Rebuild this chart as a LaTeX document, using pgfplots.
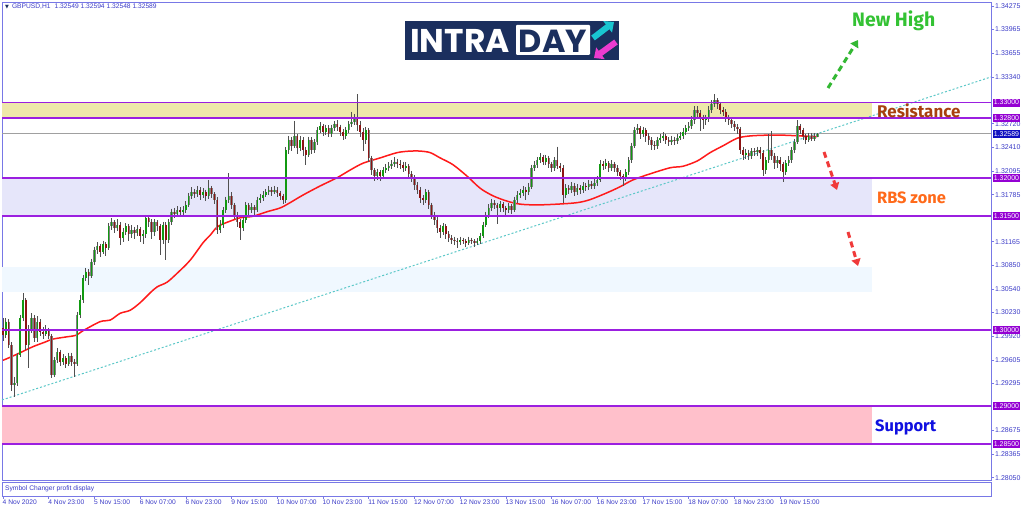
\documentclass[border=0pt]{standalone}
\usepackage{pgfplots}
\pgfplotsset{compat=1.18}
\usepackage{pgfplotstable}
\usepackage{fontspec}
\setmainfont{Liberation Sans}
\newfontfamily\annfont{Fira Sans}
\newfontfamily\logofont{Poppins}
\newfontfamily\symfont{DejaVu Sans}
\usetikzlibrary{arrows.meta}

\definecolor{framecol}{HTML}{7878E6}
\definecolor{labcol}{HTML}{3C3CC8}
\definecolor{lvcol}{HTML}{9B1FE0}
\definecolor{tagcol}{HTML}{9400D3}
\definecolor{bidtag}{HTML}{1010C0}
\definecolor{resfill}{HTML}{EEE8AA}
\definecolor{rbsfill}{HTML}{E6E6FA}
\definecolor{bluefill}{HTML}{F0F8FF}
\definecolor{supfill}{HTML}{FFC0CB}
\definecolor{bidcol}{HTML}{A0A0A0}
\definecolor{trendcol}{HTML}{5CC8C8}
\definecolor{wickcol}{HTML}{505050}
\definecolor{edgecol}{HTML}{808080}
\definecolor{bullcol}{HTML}{119911}
\definecolor{bearcol}{HTML}{8E1414}
\definecolor{macol}{HTML}{FF1A1A}
\definecolor{navy}{HTML}{1B2F5E}
\definecolor{logocyan}{HTML}{19C6D1}
\definecolor{logomag}{HTML}{EC3BD0}
\definecolor{newhigh}{HTML}{33C233}
\definecolor{rescol}{HTML}{A8400F}
\definecolor{rbscol}{HTML}{FF6A1A}
\definecolor{supcol}{HTML}{1010E0}
\definecolor{arrred}{HTML}{F03A3A}
\definecolor{arrgreen}{HTML}{33B833}

\pgfplotstableread{
i o h l c
0 1.3002 1.3016 1.2986 1.2993
1 1.2993 1.3016 1.2990 1.3011
2 1.3011 1.3014 1.2976 1.2980
3 1.2980 1.2984 1.2920 1.2927
4 1.2927 1.2938 1.2912 1.2930
5 1.2930 1.2970 1.2926 1.2967
6 1.2967 1.3020 1.2964 1.3016
7 1.3016 1.3049 1.3012 1.3040
8 1.3040 1.3042 1.2974 1.2980
9 1.2980 1.3006 1.2950 1.3000
10 1.3000 1.3022 1.2996 1.3016
11 1.3016 1.3020 1.2984 1.2989
12 1.2989 1.3018 1.2984 1.3011
13 1.3011 1.3014 1.2992 1.2997
14 1.2997 1.3004 1.2988 1.2995
15 1.2995 1.3006 1.2992 1.3000
16 1.3000 1.3003 1.2988 1.2992
17 1.2992 1.2995 1.2936 1.2941
18 1.2941 1.2964 1.2938 1.2960
19 1.2960 1.2976 1.2956 1.2971
20 1.2971 1.2974 1.2952 1.2958
21 1.2958 1.2968 1.2954 1.2963
22 1.2963 1.2966 1.2950 1.2955
23 1.2955 1.2970 1.2952 1.2966
24 1.2966 1.2970 1.2953 1.2958
25 1.2958 1.2962 1.2938 1.2955
26 1.2955 1.3024 1.2952 1.3020
27 1.3020 1.3046 1.3016 1.3040
28 1.3040 1.3072 1.3036 1.3069
29 1.3069 1.3082 1.3064 1.3077
30 1.3077 1.3080 1.3060 1.3071
31 1.3071 1.3094 1.3068 1.3090
32 1.3090 1.3110 1.3086 1.3106
33 1.3106 1.3116 1.3100 1.3111
34 1.3111 1.3114 1.3096 1.3103
35 1.3103 1.3118 1.3100 1.3113
36 1.3113 1.3116 1.3098 1.3108
37 1.3108 1.3141 1.3105 1.3137
38 1.3137 1.3148 1.3132 1.3142
39 1.3142 1.3145 1.3128 1.3135
40 1.3135 1.3146 1.3130 1.3139
41 1.3139 1.3142 1.3112 1.3121
42 1.3121 1.3134 1.3116 1.3129
43 1.3129 1.3141 1.3125 1.3137
44 1.3137 1.3140 1.3118 1.3127
45 1.3127 1.3138 1.3122 1.3132
46 1.3132 1.3136 1.3120 1.3128
47 1.3128 1.3138 1.3124 1.3133
48 1.3133 1.3136 1.3116 1.3124
49 1.3124 1.3132 1.3114 1.3126
50 1.3126 1.3152 1.3122 1.3148
51 1.3148 1.3152 1.3136 1.3142
52 1.3142 1.3146 1.3120 1.3129
53 1.3129 1.3146 1.3124 1.3142
54 1.3142 1.3145 1.3130 1.3137
55 1.3137 1.3140 1.3099 1.3119
56 1.3119 1.3143 1.3114 1.3139
57 1.3139 1.3142 1.3092 1.3119
58 1.3119 1.3146 1.3115 1.3142
59 1.3142 1.3160 1.3138 1.3156
60 1.3156 1.3161 1.3148 1.3153
61 1.3153 1.3163 1.3149 1.3158
62 1.3158 1.3162 1.3150 1.3156
63 1.3156 1.3163 1.3152 1.3158
64 1.3158 1.3170 1.3154 1.3165
65 1.3165 1.3181 1.3162 1.3177
66 1.3177 1.3188 1.3173 1.3182
67 1.3182 1.3186 1.3174 1.3179
68 1.3179 1.3190 1.3175 1.3185
69 1.3185 1.3188 1.3172 1.3178
70 1.3178 1.3187 1.3174 1.3182
71 1.3182 1.3185 1.3170 1.3177
72 1.3177 1.3198 1.3173 1.3187
73 1.3187 1.3190 1.3174 1.3179
74 1.3179 1.3182 1.3166 1.3172
75 1.3172 1.3175 1.3126 1.3132
76 1.3132 1.3145 1.3128 1.3139
77 1.3139 1.3162 1.3135 1.3158
78 1.3158 1.3176 1.3154 1.3172
79 1.3172 1.3207 1.3168 1.3177
80 1.3177 1.3182 1.3160 1.3165
81 1.3165 1.3168 1.3146 1.3152
82 1.3152 1.3156 1.3136 1.3142
83 1.3142 1.3146 1.3119 1.3135
84 1.3135 1.3150 1.3130 1.3145
85 1.3145 1.3169 1.3141 1.3165
86 1.3165 1.3168 1.3152 1.3158
87 1.3158 1.3167 1.3154 1.3162
88 1.3162 1.3165 1.3152 1.3158
89 1.3158 1.3176 1.3155 1.3172
90 1.3172 1.3180 1.3168 1.3174
91 1.3174 1.3183 1.3170 1.3178
92 1.3178 1.3186 1.3175 1.3182
93 1.3182 1.3190 1.3178 1.3185
94 1.3185 1.3189 1.3177 1.3182
95 1.3182 1.3190 1.3179 1.3185
96 1.3185 1.3188 1.3176 1.3181
97 1.3181 1.3184 1.3172 1.3177
98 1.3177 1.3180 1.3166 1.3172
99 1.3172 1.3241 1.3168 1.3237
100 1.3237 1.3256 1.3232 1.3251
101 1.3251 1.3255 1.3236 1.3243
102 1.3243 1.3276 1.3240 1.3256
103 1.3256 1.3259 1.3232 1.3240
104 1.3240 1.3256 1.3236 1.3251
105 1.3251 1.3254 1.3230 1.3237
106 1.3237 1.3242 1.3218 1.3231
107 1.3231 1.3255 1.3228 1.3251
108 1.3251 1.3254 1.3232 1.3237
109 1.3237 1.3252 1.3233 1.3248
110 1.3248 1.3268 1.3244 1.3264
111 1.3264 1.3274 1.3260 1.3269
112 1.3269 1.3272 1.3256 1.3261
113 1.3261 1.3271 1.3257 1.3266
114 1.3266 1.3270 1.3254 1.3259
115 1.3259 1.3271 1.3255 1.3266
116 1.3266 1.3276 1.3262 1.3272
117 1.3272 1.3277 1.3263 1.3268
118 1.3268 1.3271 1.3256 1.3261
119 1.3261 1.3265 1.3250 1.3256
120 1.3256 1.3268 1.3252 1.3264
121 1.3264 1.3276 1.3260 1.3272
122 1.3272 1.3288 1.3268 1.3274
123 1.3274 1.3285 1.3270 1.3280
124 1.3280 1.3311 1.3262 1.3270
125 1.3270 1.3276 1.3254 1.3261
126 1.3261 1.3266 1.3236 1.3251
127 1.3251 1.3268 1.3246 1.3264
128 1.3264 1.3266 1.3222 1.3227
129 1.3227 1.3230 1.3204 1.3211
130 1.3211 1.3214 1.3196 1.3203
131 1.3203 1.3213 1.3198 1.3208
132 1.3208 1.3211 1.3197 1.3203
133 1.3203 1.3215 1.3199 1.3211
134 1.3211 1.3219 1.3207 1.3214
135 1.3214 1.3221 1.3210 1.3216
136 1.3216 1.3224 1.3212 1.3219
137 1.3219 1.3228 1.3215 1.3222
138 1.3222 1.3226 1.3214 1.3219
139 1.3219 1.3224 1.3212 1.3218
140 1.3218 1.3222 1.3209 1.3214
141 1.3214 1.3221 1.3210 1.3216
142 1.3216 1.3219 1.3200 1.3206
143 1.3206 1.3210 1.3195 1.3201
144 1.3201 1.3204 1.3185 1.3191
145 1.3191 1.3195 1.3180 1.3185
146 1.3185 1.3188 1.3168 1.3174
147 1.3174 1.3178 1.3165 1.3172
148 1.3172 1.3186 1.3168 1.3182
149 1.3182 1.3185 1.3160 1.3165
150 1.3165 1.3168 1.3146 1.3152
151 1.3152 1.3156 1.3139 1.3145
152 1.3145 1.3149 1.3128 1.3135
153 1.3135 1.3139 1.3122 1.3129
154 1.3129 1.3141 1.3125 1.3137
155 1.3137 1.3140 1.3120 1.3127
156 1.3127 1.3130 1.3116 1.3121
157 1.3121 1.3125 1.3114 1.3119
158 1.3119 1.3123 1.3112 1.3117
159 1.3117 1.3121 1.3108 1.3116
160 1.3116 1.3123 1.3112 1.3119
161 1.3119 1.3122 1.3113 1.3117
162 1.3117 1.3120 1.3110 1.3115
163 1.3115 1.3123 1.3112 1.3119
164 1.3119 1.3122 1.3113 1.3117
165 1.3117 1.3120 1.3110 1.3115
166 1.3115 1.3121 1.3112 1.3117
167 1.3117 1.3128 1.3114 1.3124
168 1.3124 1.3143 1.3121 1.3139
169 1.3139 1.3156 1.3136 1.3152
170 1.3152 1.3166 1.3148 1.3161
171 1.3161 1.3173 1.3157 1.3168
172 1.3168 1.3171 1.3160 1.3165
173 1.3165 1.3168 1.3140 1.3161
174 1.3161 1.3170 1.3156 1.3166
175 1.3166 1.3169 1.3155 1.3161
176 1.3161 1.3164 1.3152 1.3158
177 1.3158 1.3168 1.3154 1.3164
178 1.3164 1.3166 1.3153 1.3158
179 1.3158 1.3176 1.3155 1.3172
180 1.3172 1.3183 1.3168 1.3178
181 1.3178 1.3186 1.3174 1.3181
182 1.3181 1.3190 1.3177 1.3185
183 1.3185 1.3188 1.3172 1.3182
184 1.3182 1.3194 1.3178 1.3189
185 1.3189 1.3218 1.3186 1.3214
186 1.3214 1.3223 1.3210 1.3218
187 1.3218 1.3228 1.3214 1.3224
188 1.3224 1.3233 1.3220 1.3228
189 1.3228 1.3231 1.3217 1.3222
190 1.3222 1.3231 1.3218 1.3227
191 1.3227 1.3230 1.3214 1.3219
192 1.3219 1.3222 1.3208 1.3214
193 1.3214 1.3228 1.3210 1.3224
194 1.3224 1.3242 1.3212 1.3216
195 1.3216 1.3220 1.3208 1.3214
196 1.3214 1.3217 1.3168 1.3178
197 1.3178 1.3192 1.3174 1.3187
198 1.3187 1.3191 1.3180 1.3185
199 1.3185 1.3195 1.3181 1.3190
200 1.3190 1.3194 1.3177 1.3182
201 1.3182 1.3192 1.3178 1.3187
202 1.3187 1.3191 1.3180 1.3185
203 1.3185 1.3195 1.3181 1.3190
204 1.3190 1.3194 1.3184 1.3189
205 1.3189 1.3198 1.3185 1.3193
206 1.3193 1.3196 1.3186 1.3190
207 1.3190 1.3199 1.3186 1.3194
208 1.3194 1.3203 1.3190 1.3198
209 1.3198 1.3224 1.3195 1.3219
210 1.3219 1.3223 1.3211 1.3216
211 1.3216 1.3226 1.3212 1.3220
212 1.3220 1.3223 1.3209 1.3214
213 1.3214 1.3224 1.3210 1.3219
214 1.3219 1.3222 1.3209 1.3214
215 1.3214 1.3217 1.3203 1.3208
216 1.3208 1.3211 1.3198 1.3203
217 1.3203 1.3206 1.3190 1.3201
218 1.3201 1.3212 1.3197 1.3208
219 1.3208 1.3228 1.3205 1.3224
220 1.3224 1.3247 1.3220 1.3243
221 1.3243 1.3268 1.3240 1.3264
222 1.3264 1.3272 1.3258 1.3266
223 1.3266 1.3269 1.3252 1.3259
224 1.3259 1.3268 1.3254 1.3264
225 1.3264 1.3267 1.3248 1.3256
226 1.3256 1.3260 1.3244 1.3251
227 1.3251 1.3254 1.3238 1.3244
228 1.3244 1.3249 1.3237 1.3243
229 1.3243 1.3255 1.3239 1.3251
230 1.3251 1.3258 1.3247 1.3253
231 1.3253 1.3261 1.3249 1.3256
232 1.3256 1.3259 1.3245 1.3251
233 1.3251 1.3254 1.3243 1.3248
234 1.3248 1.3256 1.3244 1.3251
235 1.3251 1.3255 1.3244 1.3249
236 1.3249 1.3258 1.3245 1.3253
237 1.3253 1.3261 1.3250 1.3256
238 1.3256 1.3266 1.3252 1.3261
239 1.3261 1.3271 1.3257 1.3266
240 1.3266 1.3274 1.3262 1.3269
241 1.3269 1.3282 1.3265 1.3277
242 1.3277 1.3295 1.3272 1.3290
243 1.3290 1.3295 1.3280 1.3286
244 1.3286 1.3290 1.3263 1.3280
245 1.3280 1.3284 1.3265 1.3277
246 1.3277 1.3284 1.3270 1.3278
247 1.3278 1.3295 1.3274 1.3290
248 1.3290 1.3303 1.3286 1.3298
249 1.3298 1.3311 1.3294 1.3303
250 1.3303 1.3306 1.3292 1.3298
251 1.3298 1.3301 1.3285 1.3290
252 1.3290 1.3294 1.3282 1.3288
253 1.3288 1.3291 1.3275 1.3280
254 1.3280 1.3284 1.3270 1.3277
255 1.3277 1.3280 1.3266 1.3272
256 1.3272 1.3276 1.3262 1.3268
257 1.3268 1.3272 1.3258 1.3265
258 1.3265 1.3268 1.3232 1.3237
259 1.3237 1.3241 1.3224 1.3231
260 1.3231 1.3239 1.3226 1.3234
261 1.3234 1.3238 1.3224 1.3230
262 1.3230 1.3240 1.3226 1.3236
263 1.3236 1.3240 1.3229 1.3235
264 1.3235 1.3242 1.3230 1.3237
265 1.3237 1.3241 1.3226 1.3234
266 1.3234 1.3237 1.3203 1.3211
267 1.3211 1.3228 1.3206 1.3224
268 1.3224 1.3258 1.3220 1.3237
269 1.3237 1.3262 1.3224 1.3230
270 1.3230 1.3234 1.3213 1.3220
271 1.3220 1.3229 1.3214 1.3224
272 1.3224 1.3228 1.3210 1.3219
273 1.3219 1.3222 1.3195 1.3208
274 1.3208 1.3224 1.3204 1.3220
275 1.3220 1.3229 1.3216 1.3224
276 1.3224 1.3241 1.3220 1.3237
277 1.3237 1.3252 1.3233 1.3248
278 1.3248 1.3277 1.3245 1.3269
279 1.3269 1.3272 1.3258 1.3264
280 1.3264 1.3267 1.3250 1.3256
281 1.3256 1.3259 1.3246 1.3251
282 1.3251 1.3260 1.3248 1.3256
283 1.3256 1.3260 1.3249 1.3252
284 1.3252 1.3260 1.3249 1.3255
285 1.32549 1.32594 1.32548 1.32589
}\candles

\pgfplotstableread{
i v
0 1.2960
2.5 1.2964
6 1.2970
10.5 1.2978
14.7 1.2984
17.5 1.2988
22.4 1.2991
25.6 1.2993
28 1.2999
34 1.3011
37.5 1.3013
41 1.3022
44.5 1.3026
48 1.3036
51.5 1.3049
54 1.3057
57.4 1.3063
61 1.3075
65.5 1.3092
70 1.3115
72.5 1.3125
75 1.3136
78.4 1.3142
83 1.3148
87.5 1.3150
92.4 1.3156
97 1.3161
100.5 1.3168
105 1.3178
111 1.3190
117 1.3201
121.5 1.3211
126 1.3220
132 1.3227
138 1.3234
142.5 1.3236
146 1.3236
149.5 1.3234
153 1.3227
157.5 1.3218
162.4 1.3203
167 1.3187
171.5 1.3177
176.4 1.3170
181 1.3166
187 1.3165
194 1.3166
201 1.3168
205.5 1.3172
211.4 1.3181
216 1.3189
220.5 1.3198
226.5 1.3206
233.5 1.3214
238 1.3216
243 1.3223
247.5 1.3234
252 1.3243
257 1.3253
261.5 1.3256
267.4 1.3257
273 1.3257
279 1.3256
285 1.3255
}\ema

\begin{document}
\begin{tikzpicture}[x=1bp,y=1bp,
  tag/.style={anchor=west, fill=tagcol, text=white, font=\fontsize{7}{7}\selectfont, inner xsep=1.2bp, inner ysep=0.6bp, minimum height=8bp, xshift=1.5bp}]
\path[use as bounding box, fill=white] (0,0) rectangle (1024,511);

\begin{axis}[
  at={(2bp,31bp)}, anchor=south west, scale only axis,
  width=989bp, height=478bp,
  xmin=-0.35, xmax=345.8, ymin=1.28021, ymax=1.34327,
  clip=false,
  axis line style={draw=framecol, line width=0.9bp},
  xtick=\empty,
  ytick={1.28050,1.28365,1.28675,1.29295,1.29605,1.29920,1.30230,1.30540,1.30850,1.31165,1.31785,1.32095,1.32410,1.32720,1.33340,1.33655,1.33965,1.34275},
  yticklabels={1.28050,1.28365,1.28675,1.29295,1.29605,1.29920,1.30230,1.30540,1.30850,1.31165,1.31785,1.32095,1.32410,1.32720,1.33340,1.33655,1.33965,1.34275},
  ytick pos=right, yticklabel pos=right,
  tick align=outside, major tick length=3bp,
  tick style={draw=framecol, line width=0.6bp},
  yticklabel style={font=\fontsize{7}{7}\selectfont, text=labcol, anchor=west, inner sep=1bp},
]
% zones
\addplot[fill=resfill, draw=none, forget plot] coordinates {(-0.35,1.328) (304.2,1.328) (304.2,1.33) (-0.35,1.33)} -- cycle;
\addplot[fill=rbsfill, draw=none, forget plot] coordinates {(-0.35,1.315) (304.2,1.315) (304.2,1.32) (-0.35,1.32)} -- cycle;
\addplot[fill=bluefill, draw=none, forget plot] coordinates {(-0.35,1.30501) (304.2,1.30501) (304.2,1.30831) (-0.35,1.30831)} -- cycle;
\addplot[fill=supfill, draw=none, forget plot] coordinates {(-0.35,1.285) (304.2,1.285) (304.2,1.29) (-0.35,1.29)} -- cycle;
% bid line
\addplot[bidcol, line width=0.8bp, forget plot] coordinates {(-0.35,1.32589) (345.8,1.32589)};
% trend line
\addplot[trendcol, line width=1bp, dash pattern=on 2bp off 2bp, forget plot] coordinates {(-0.35,1.29077) (345.8,1.33338)};
% moving average
\addplot[macol, line width=1.5bp, smooth, forget plot] table[x=i, y=v] {\ema};
% wicks
\addplot[draw=none, mark=none, forget plot,
  error bars/.cd, y dir=minus, y explicit, error mark=none,
  error bar style={line width=0.8bp, draw=wickcol, solid}]
  table[x=i, y=h, y error minus expr=\thisrow{h}-\thisrow{l}] {\candles};
% bull bodies
\addplot[draw=none, mark=none, forget plot,
  restrict expr to domain={\thisrow{c}-\thisrow{o}}{0:1},
  error bars/.cd, y dir=minus, y explicit, error mark=none,
  error bar style={line width=2.4bp, draw=edgecol, solid}]
  table[x=i, y=c, y error minus expr=\thisrow{c}-\thisrow{o}] {\candles};
\addplot[draw=none, mark=none, forget plot,
  restrict expr to domain={\thisrow{c}-\thisrow{o}}{0:1},
  error bars/.cd, y dir=minus, y explicit, error mark=none,
  error bar style={line width=1.4bp, draw=bullcol, solid}]
  table[x=i, y=c, y error minus expr=\thisrow{c}-\thisrow{o}] {\candles};
% bear bodies
\addplot[draw=none, mark=none, forget plot,
  restrict expr to domain={\thisrow{c}-\thisrow{o}}{-1:0},
  error bars/.cd, y dir=minus, y explicit, error mark=none,
  error bar style={line width=2.4bp, draw=edgecol, solid}]
  table[x=i, y=o, y error minus expr=\thisrow{o}-\thisrow{c}] {\candles};
\addplot[draw=none, mark=none, forget plot,
  restrict expr to domain={\thisrow{c}-\thisrow{o}}{-1:0},
  error bars/.cd, y dir=minus, y explicit, error mark=none,
  error bar style={line width=1.4bp, draw=bearcol, solid}]
  table[x=i, y=o, y error minus expr=\thisrow{o}-\thisrow{c}] {\candles};
% level lines
\pgfplotsinvokeforeach{1.33,1.328,1.32,1.315,1.30,1.29,1.285}{
  \addplot[lvcol, line width=1.8bp, forget plot] coordinates {(-0.35,#1) (345.8,#1)};
}
% price tags
\node[tag] at (axis cs:345.8,1.33) {1.33000};
\node[tag] at (axis cs:345.8,1.328) {1.32800};
\node[tag, fill=bidtag] at (axis cs:345.8,1.32589) {1.32589};
\node[tag] at (axis cs:345.8,1.32) {1.32000};
\node[tag] at (axis cs:345.8,1.315) {1.31500};
\node[tag] at (axis cs:345.8,1.30) {1.30000};
\node[tag] at (axis cs:345.8,1.29) {1.29000};
\node[tag] at (axis cs:345.8,1.285) {1.28500};
\end{axis}

% sub panel
\begin{axis}[
  at={(2bp,15bp)}, anchor=south west, scale only axis,
  width=989bp, height=14bp,
  xmin=-0.35, xmax=345.8, ymin=0, ymax=1,
  axis line style={draw=framecol, line width=0.9bp},
  ytick=\empty,
  xtick={0,16,...,272},
  xticklabels={4 Nov 2020,4 Nov 23:00,5 Nov 15:00,6 Nov 07:00,6 Nov 23:00,9 Nov 15:00,10 Nov 07:00,10 Nov 23:00,11 Nov 15:00,12 Nov 07:00,12 Nov 23:00,13 Nov 15:00,16 Nov 07:00,16 Nov 23:00,17 Nov 15:00,18 Nov 07:00,18 Nov 23:00,19 Nov 15:00},
  xtick pos=bottom, tick align=outside, major tick length=3bp,
  tick style={draw=framecol, line width=0.6bp},
  xticklabel style={font=\fontsize{6.7}{7}\selectfont, text=labcol, anchor=north west, inner sep=1bp, xshift=-1.5bp},
]
\node[anchor=west, font=\fontsize{6.7}{7}\selectfont, text=labcol, inner sep=0] at (rel axis cs:0.003,0.5) {Symbol Changer profit display};
\end{axis}

% header
\node[anchor=west, font=\fontsize{6.7}{7}\selectfont, text=labcol, inner sep=0] at (5,504.5)
  {{\symfont\fontsize{5}{6}\selectfont\color{navy}▼}\hspace{3bp}GBPUSD,H1\hspace{4bp}1.32549 1.32594 1.32548 1.32589};

% logo
\fill[navy] (405,451) rectangle (619,490);
\fill[white, rounded corners=1bp] (516,456) rectangle (590,486);
\node[anchor=west, inner sep=0, text=white, font=\logofont\bfseries\fontsize{33}{33}\selectfont] at (410,470) {INTRA};
\node[inner sep=0, text=navy, font=\logofont\bfseries\fontsize{32}{32}\selectfont] at (553,470) {DAY};
\draw[logocyan, line width=6bp, -{Triangle[length=8bp,width=14bp]}] (593,473) -- (614,489);
\draw[logomag, line width=6bp, -{Triangle[length=8bp,width=14bp]}] (616,469) -- (594,453);

% annotations
\node[anchor=west, inner sep=0, text=newhigh, font=\annfont\bfseries\fontsize{19.5}{19.5}\selectfont] at (852,490) {New High};
\node[anchor=west, inner sep=0, text=rescol, font=\annfont\bfseries\fontsize{17}{17}\selectfont] at (877,400) {Resistance};
\node[anchor=west, inner sep=0, text=rbscol, font=\annfont\bfseries\fontsize{16.5}{17}\selectfont] at (877,313) {RBS zone};
\node[anchor=west, inner sep=0, text=supcol, font=\annfont\bfseries\fontsize{16.5}{17}\selectfont] at (875,84) {Support};

% arrows
\draw[arrgreen, line width=3bp, dash pattern=on 6bp off 4bp, -{Triangle[length=7bp,width=9bp]}] (828,423) -- (858,471);
\draw[arrred, line width=3bp, dash pattern=on 6bp off 4bp, -{Triangle[length=7bp,width=9bp]}] (824,359) -- (837,321);
\draw[arrred, line width=3bp, dash pattern=on 6bp off 4bp, -{Triangle[length=7bp,width=9bp]}] (848,279) -- (858,245);
\end{tikzpicture}
\end{document}
